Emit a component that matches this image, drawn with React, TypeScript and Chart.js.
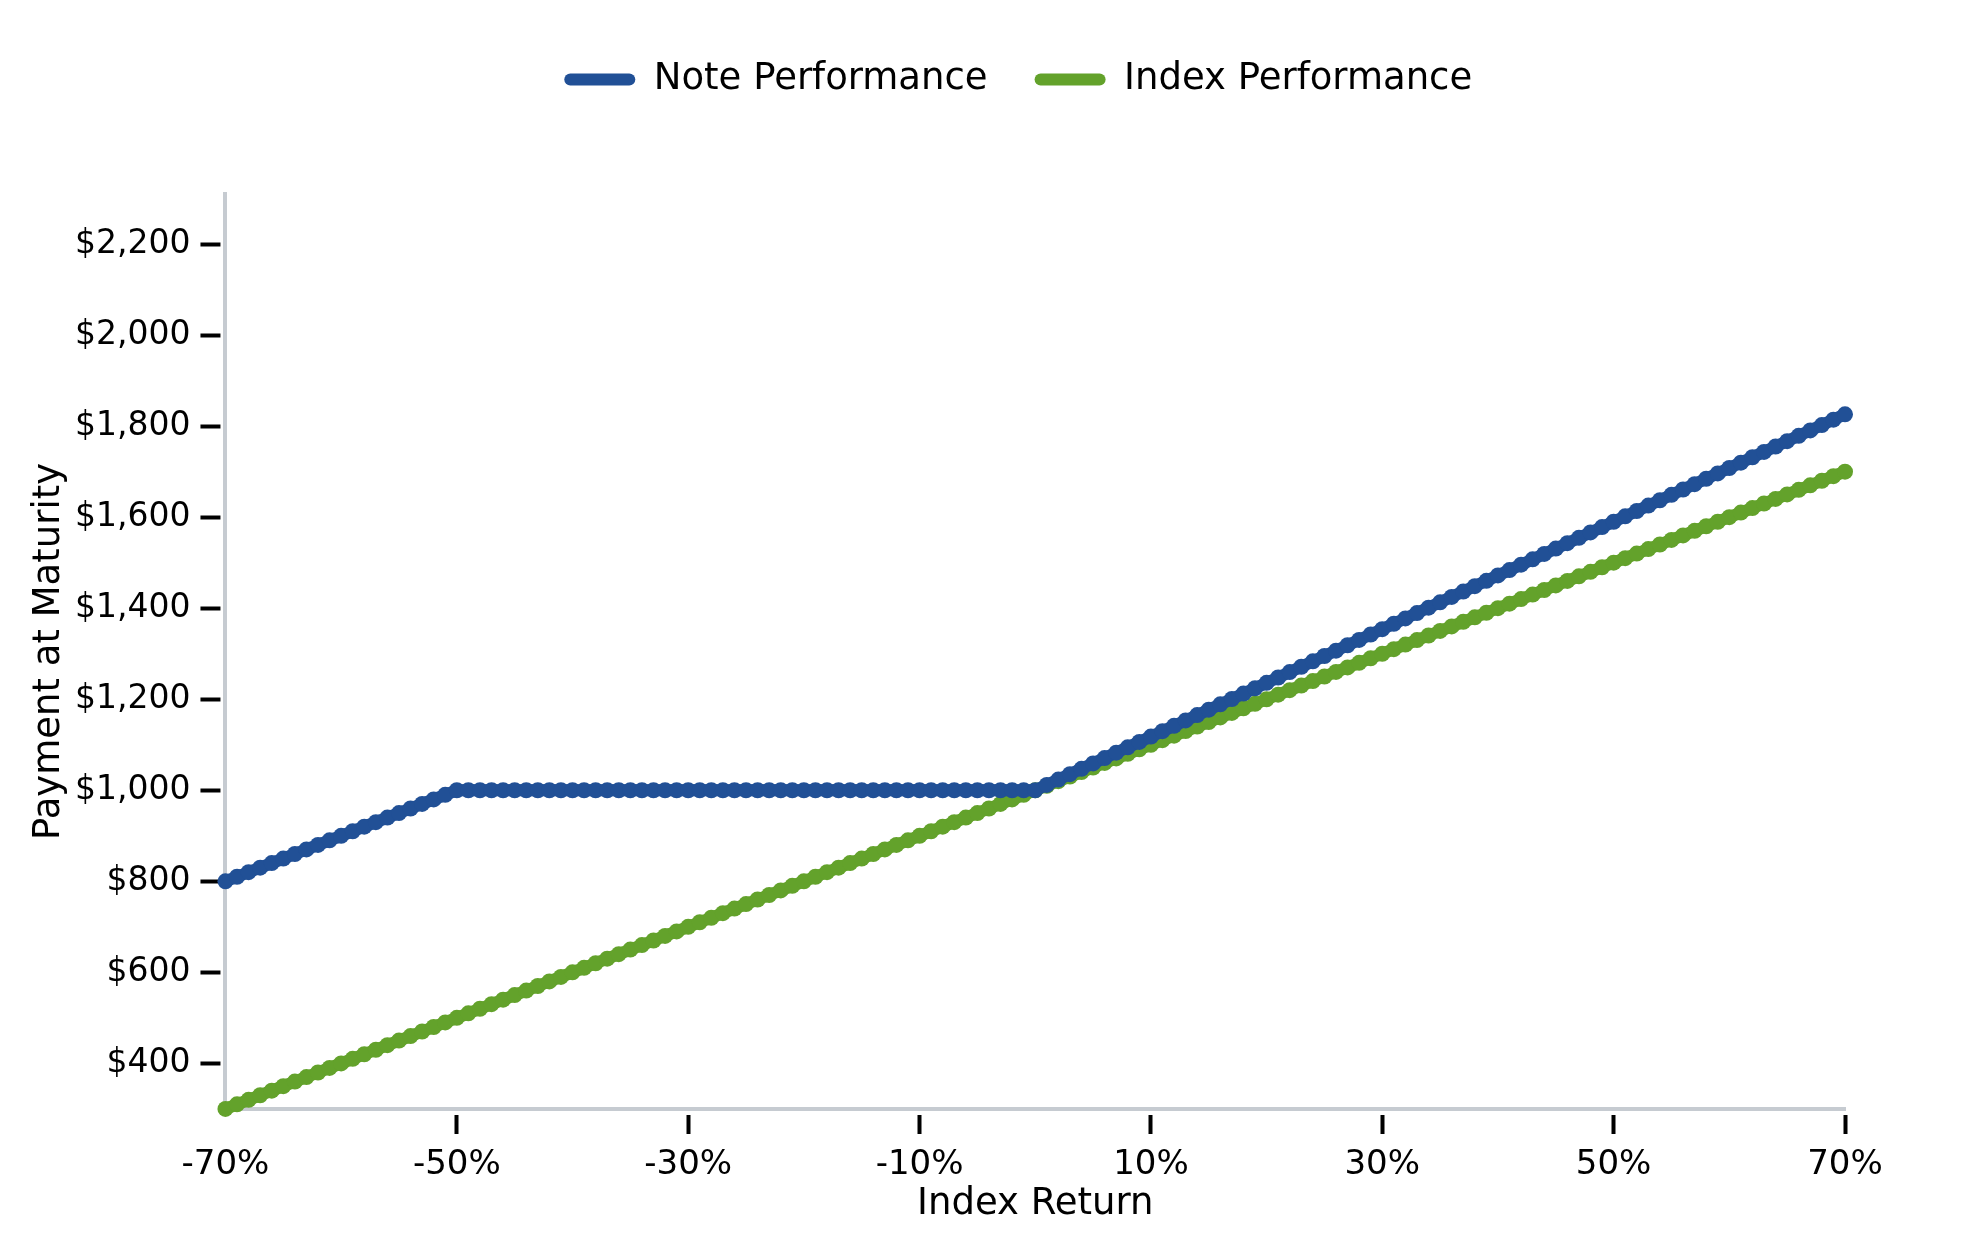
import React, { useRef, useEffect } from "react";
import Chart from "chart.js/auto";

// index return in percent (x axis)
const returns = [
  -70, -69, -68, -67, -66, -65, -64, -63, -62, -61,
  -60, -59, -58, -57, -56, -55, -54, -53, -52, -51,
  -50, -49, -48, -47, -46, -45, -44, -43, -42, -41,
  -40, -39, -38, -37, -36, -35, -34, -33, -32, -31,
  -30, -29, -28, -27, -26, -25, -24, -23, -22, -21,
  -20, -19, -18, -17, -16, -15, -14, -13, -12, -11,
  -10, -9, -8, -7, -6, -5, -4, -3, -2, -1,
  0, 1, 2, 3, 4, 5, 6, 7, 8, 9,
  10, 11, 12, 13, 14, 15, 16, 17, 18, 19,
  20, 21, 22, 23, 24, 25, 26, 27, 28, 29,
  30, 31, 32, 33, 34, 35, 36, 37, 38, 39,
  40, 41, 42, 43, 44, 45, 46, 47, 48, 49,
  50, 51, 52, 53, 54, 55, 56, 57, 58, 59,
  60, 61, 62, 63, 64, 65, 66, 67, 68, 69,
  70,
];

const notePayment = [
  800, 810, 820, 830, 840, 850, 860, 870, 880, 890,
  900, 910, 920, 930, 940, 950, 960, 970, 980, 990,
  1000, 1000, 1000, 1000, 1000, 1000, 1000, 1000, 1000, 1000,
  1000, 1000, 1000, 1000, 1000, 1000, 1000, 1000, 1000, 1000,
  1000, 1000, 1000, 1000, 1000, 1000, 1000, 1000, 1000, 1000,
  1000, 1000, 1000, 1000, 1000, 1000, 1000, 1000, 1000, 1000,
  1000, 1000, 1000, 1000, 1000, 1000, 1000, 1000, 1000, 1000,
  1000, 1011.8, 1023.6, 1035.4, 1047.2, 1059, 1070.8, 1082.6, 1094.4, 1106.2,
  1118, 1129.8, 1141.6, 1153.4, 1165.2, 1177, 1188.8, 1200.6, 1212.4, 1224.2,
  1236, 1247.8, 1259.6, 1271.4, 1283.2, 1295, 1306.8, 1318.6, 1330.4, 1342.2,
  1354, 1365.8, 1377.6, 1389.4, 1401.2, 1413, 1424.8, 1436.6, 1448.4, 1460.2,
  1472, 1483.8, 1495.6, 1507.4, 1519.2, 1531, 1542.8, 1554.6, 1566.4, 1578.2,
  1590, 1601.8, 1613.6, 1625.4, 1637.2, 1649, 1660.8, 1672.6, 1684.4, 1696.2,
  1708, 1719.8, 1731.6, 1743.4, 1755.2, 1767, 1778.8, 1790.6, 1802.4, 1814.2,
  1826,
];

const indexPayment = [
  300, 310, 320, 330, 340, 350, 360, 370, 380, 390,
  400, 410, 420, 430, 440, 450, 460, 470, 480, 490,
  500, 510, 520, 530, 540, 550, 560, 570, 580, 590,
  600, 610, 620, 630, 640, 650, 660, 670, 680, 690,
  700, 710, 720, 730, 740, 750, 760, 770, 780, 790,
  800, 810, 820, 830, 840, 850, 860, 870, 880, 890,
  900, 910, 920, 930, 940, 950, 960, 970, 980, 990,
  1000, 1010, 1020, 1030, 1040, 1050, 1060, 1070, 1080, 1090,
  1100, 1110, 1120, 1130, 1140, 1150, 1160, 1170, 1180, 1190,
  1200, 1210, 1220, 1230, 1240, 1250, 1260, 1270, 1280, 1290,
  1300, 1310, 1320, 1330, 1340, 1350, 1360, 1370, 1380, 1390,
  1400, 1410, 1420, 1430, 1440, 1450, 1460, 1470, 1480, 1490,
  1500, 1510, 1520, 1530, 1540, 1550, 1560, 1570, 1580, 1590,
  1600, 1610, 1620, 1630, 1640, 1650, 1660, 1670, 1680, 1690,
  1700,
];

const xTicks = [-70, -50, -30, -10, 10, 30, 50, 70];
const yTicks = [400, 600, 800, 1000, 1200, 1400, 1600, 1800, 2000, 2200];

const BLUE = "#215096";
const GREEN = "#63A22B";
const AXIS = "#C6CBD1";
const FONT = "DejaVu Sans";

// pushes the plot area down, away from the legend, and nudges the legend left
const legendSpacer = {
  id: "legendSpacer",
  beforeInit(chart: any) {
    const fit = chart.legend.fit;
    chart.legend.fit = function () {
      fit.call(this);
      this.height += 86;
    };
  },
  afterLayout(chart: any) {
    chart.legend.left -= 17;
    chart.legend.right -= 17;
  },
};

const lineDataset = (label: string, values: number[], color: string) => ({
  label,
  data: returns.map((r, i) => ({ x: r, y: values[i] })),
  borderColor: color,
  backgroundColor: color,
  borderWidth: 12,
  pointRadius: 8,
  pointHoverRadius: 8,
  pointBorderWidth: 0,
  pointBackgroundColor: color,
  tension: 0,
  clip: false as any,
});

const App = () => {
  const canvasRef = useRef<HTMLCanvasElement>(null);

  useEffect(() => {
    document.body.style.margin = "0";
    const ctx = canvasRef.current?.getContext("2d");
    if (!ctx) return;

    const chart = new Chart(ctx, {
      type: "line",
      data: {
        datasets: [
          lineDataset("Note Performance", notePayment, BLUE),
          lineDataset("Index Performance", indexPayment, GREEN),
        ],
      },
      options: {
        animation: false,
        responsive: true,
        maintainAspectRatio: false,
        events: [],
        layout: { padding: { left: 0, right: 134, top: 14, bottom: 25.5 } },
        plugins: {
          legend: {
            position: "top",
            fullSize: false,
            labels: {
              font: { family: FONT, size: 37 },
              color: "#000",
              boxWidth: 71,
              boxHeight: 12,
              padding: 47,
              generateLabels: (c: any) =>
                c.data.datasets.map((ds: any, i: number) => ({
                  text: ds.label,
                  fillStyle: ds.borderColor,
                  strokeStyle: ds.borderColor,
                  lineWidth: 0,
                  borderRadius: 6,
                  fontColor: "#000",
                  hidden: false,
                  datasetIndex: i,
                })),
            },
          },
          tooltip: { enabled: false },
        },
        scales: {
          x: {
            type: "linear",
            min: -70,
            max: 70,
            afterBuildTicks: (s: any) => {
              s.ticks = xTicks.map((v) => ({ value: v }));
            },
            ticks: {
              callback: (v: any) => v + "%",
              font: { family: FONT, size: 34 },
              color: "#000",
              padding: 10.4,
              maxRotation: 0,
              autoSkip: false,
            },
            grid: {
              drawOnChartArea: false,
              drawTicks: true,
              tickLength: 25,
              tickWidth: 4,
              tickColor: (c: any) =>
                c.tick && c.tick.value === -70 ? "rgba(0,0,0,0)" : "#000",
              tickBorderDash: [0, 4, 21, 100],
            },
            border: { color: AXIS, width: 4 },
            title: {
              display: true,
              text: "Index Return",
              font: { family: FONT, size: 37, lineHeight: 1 },
              color: "#000",
              padding: { top: -10, bottom: 2 },
            },
          },
          y: {
            type: "linear",
            min: 300,
            max: 2310,
            afterBuildTicks: (s: any) => {
              s.ticks = yTicks.map((v) => ({ value: v }));
            },
            ticks: {
              callback: (v: any) => "$" + Number(v).toLocaleString("en-US"),
              font: { family: FONT, size: 33 },
              color: "#000",
              padding: 10,
              autoSkip: false,
            },
            grid: {
              drawOnChartArea: false,
              drawTicks: true,
              tickLength: 25,
              tickWidth: 4,
              tickColor: "#000",
              tickBorderDash: [20, 100],
            },
            border: { color: AXIS, width: 4 },
            title: {
              display: true,
              text: "Payment at Maturity",
              font: { family: FONT, size: 37, lineHeight: 1 },
              color: "#000",
              padding: { top: 30.5, bottom: -2.5 },
            },
          },
        },
      } as any,
      plugins: [legendSpacer],
    });

    return () => {
      chart.destroy();
    };
  }, []);

  return (
    <div style={{ width: 1979, height: 1250, position: "relative" }}>
      <canvas ref={canvasRef}></canvas>
    </div>
  );
};

export default App;
